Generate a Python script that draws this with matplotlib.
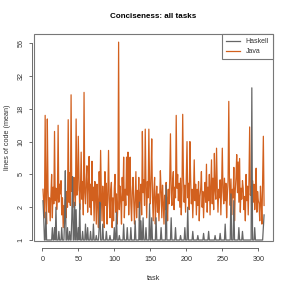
import numpy as np
import matplotlib
matplotlib.use("Agg")
import matplotlib.pyplot as plt
import matplotlib.patches as mpatches

plt.rcParams['font.family'] = ['Liberation Sans', 'DejaVu Sans']

# mean lines of code per task (tasks 1..308)
java = [
    3.3, 2.2, 1.6, 16, 2.5, 1.4, 15, 3.2, 1.8, 2.6,
    1.5, 2.8, 5, 1.6, 3.5, 2.2, 12, 2.4, 3.4, 1.9,
    2.6, 13.4, 2.3, 3.8, 2.9, 4.2, 1.7, 2.6, 1.3, 2.1,
    1.4, 2.5, 1.6, 3.1, 2, 14.8, 2.3, 5.2, 2.1, 23,
    3.1, 4.3, 2, 4.6, 3.4, 2.1, 15, 2.8, 3.2, 11,
    4.4, 1.9, 3.3, 8, 2.5, 4.1, 1.7, 24, 3, 2.2,
    4.2, 6, 1.8, 3.5, 7.3, 2, 3.8, 1.7, 6.6, 2.4,
    3.5, 1.5, 4.1, 3, 1.4, 3.8, 2.2, 1.3, 5.3, 2.3,
    8.3, 3, 1.5, 3.6, 2.4, 1.3, 5.3, 2.1, 3.9, 1.4,
    2.8, 8.3, 2.5, 1.6, 3.2, 4, 1.3, 2.6, 1.5, 3.4,
    5, 1.8, 2.9, 1.4, 2.2, 57, 1.9, 3.6, 2.5, 1.4,
    4.6, 2.4, 7.2, 1.6, 3.3, 2.1, 7.2, 2.8, 8, 1.7,
    3.4, 7.2, 2.2, 1.5, 3.1, 4.6, 2.3, 1.4, 2.7, 5.3,
    1.6, 3.2, 2, 4.6, 1.5, 2.9, 3.8, 1.7, 12, 3,
    4.3, 2.1, 12.5, 3.5, 1.6, 4.1, 2.6, 12.5, 3.9, 2.2,
    4.8, 10.5, 2.7, 1.5, 3.2, 4.6, 1.4, 2.5, 3.6, 1.8,
    2.9, 1.5, 2.4, 5.4, 3.1, 1.6, 3.7, 2.3, 1.4, 2.8,
    1.9, 4, 2.6, 1.5, 3.3, 2.2, 4.4, 11.5, 3, 2.1,
    4.2, 5.3, 1.9, 3.5, 2.6, 16, 3.4, 5, 2.4, 3.9,
    2, 4.5, 1.7, 3.2, 16.3, 4.8, 2.3, 3.7, 1.8, 4.4,
    10, 2.6, 3.9, 1.9, 10, 4.6, 2.2, 3.3, 1.6, 2.9,
    6.8, 2.4, 3.8, 1.7, 3.3, 2.1, 4.1, 1.5, 2.7, 3.4,
    5.3, 2, 3.1, 1.6, 2.8, 4, 2.3, 6.2, 1.8, 3.5,
    2.4, 5, 1.7, 3.6, 6.8, 2.2, 4.5, 1.9, 7.8, 3.2,
    2.5, 8.7, 3.4, 1.8, 3.3, 2.6, 4.3, 1.7, 3.5, 8.7,
    3.1, 2.2, 4.5, 2.4, 3.9, 1.6, 2.8, 4.2, 20.5, 3.6,
    2.1, 4.4, 1.7, 3.3, 2.6, 5.8, 1.5, 3.2, 4.6, 7.6,
    3, 6.5, 2.3, 7, 1.8, 3.4, 2.5, 4.2, 3.4, 1.9,
    2.7, 1.5, 5, 2.4, 3.6, 1.7, 4.1, 13, 2.8, 3.5,
    1.6, 4.2, 2.3, 3.8, 1.9, 2.6, 5.7, 1.8, 3.1, 2.4,
    2.2, 1.5, 3.6, 2.3, 1.4, 4.4, 11, 2.1,
]

haskell = [
    2.4, 1.6, 1, 1, 1.8, 1, 1, 1, 1, 1,
    1, 1, 1, 1.3, 1, 1, 1.3, 1, 2, 1,
    1, 1, 1.2, 1, 1, 1, 1.3, 1, 1, 1,
    1.5, 5.4, 1, 1, 1.3, 1, 1, 1.2, 1, 1,
    1.6, 4.7, 1, 1, 2.3, 1, 1.9, 1, 1, 1.3,
    1, 2.2, 1, 1, 1, 1.2, 1, 1, 1, 1.4,
    1, 1, 1.3, 1, 1, 1, 1.2, 1, 1, 1,
    1.4, 1, 1, 1, 1.1, 1, 1, 1, 1.3, 2.3,
    1, 1, 1, 1.4, 1, 1, 1, 1, 1.2, 1,
    1, 1, 1, 1.1, 1, 1, 1, 1, 1, 1.3,
    1, 1, 1.8, 1, 1, 1, 1.1, 1, 1, 1,
    1, 1, 1.4, 1, 1, 1, 1, 1.3, 1, 1,
    1, 1, 1.3, 1, 1, 1, 1, 1, 1.5, 1,
    1, 1, 1, 1, 2.3, 1, 1.5, 1, 1, 1.6,
    1, 1, 1, 1.3, 1, 1, 1, 1, 2.2, 1,
    1, 1.6, 1, 1, 1, 1, 1, 1.6, 1, 1,
    1, 1, 1, 1, 1.3, 1, 1, 1, 1, 1,
    1, 3.7, 1, 1, 1, 1, 1, 1, 1.6, 1,
    1, 1, 1, 1, 1.3, 1, 1, 1, 1, 1,
    1, 1.1, 1, 1, 1, 1, 1, 1.3, 1, 1,
    1, 2, 1, 1, 1, 1, 1, 1, 1.2, 1,
    1, 1, 1, 1, 1, 1.1, 1, 1, 1, 1,
    1, 1, 1, 1.15, 1, 1, 1, 1, 1, 1,
    1.2, 1, 1, 1, 1, 1, 1, 1, 1, 1.1,
    1, 1, 1, 1, 1, 1, 1.15, 1, 1, 1,
    1, 1, 1, 1.4, 1, 1, 1, 1, 1, 1,
    1, 2.9, 1, 1, 1, 2.4, 1, 1, 1, 1,
    1, 1, 1.3, 1, 1, 1, 1, 1.2, 1, 1,
    1, 1, 1, 1, 1, 1, 1, 1, 1, 1,
    26, 1, 1, 1, 1.3, 1, 1, 1, 1, 1,
    1, 1, 1, 1, 1, 1, 1.3, 1.7,
]

tasks = np.arange(1, len(java) + 1)
y_ticks = [1, 2, 5, 10, 18, 32, 56]
x_ticks = [0, 50, 100, 150, 200, 250, 300]

# y axis: tick labels sit equally spaced, log-interpolated in between
k_val = np.log([0.01] + y_ticks + [1e4])
k_pos = np.concatenate([[-np.log(100) / np.log(2)], np.arange(7),
                        [6 + (np.log(1e4) - np.log(56)) / (np.log(56) - np.log(32))]])


def fwd(y):
    y = np.clip(np.asarray(y, dtype=float), 0.01, 1e4)
    return np.interp(np.log(y), k_val, k_pos)


def inv(t):
    return np.exp(np.interp(np.asarray(t, dtype=float), k_pos, k_val))


fig = plt.figure(figsize=(2.91, 2.91), dpi=100)
ax = fig.add_axes([34 / 291, 1 - 241 / 291, 239 / 291, 207 / 291])
ax.set_yscale('function', functions=(fwd, inv))

ax.plot(tasks, java, color='#D2601E', lw=0.9, label='Java', zorder=2)
ax.plot(tasks, haskell, color='#666666', lw=0.9, label='Haskell', zorder=3)

ax.set_xlim(-11.5, 320.4)
ax.set_ylim(inv(-0.03), inv(6.28))

ax.set_yticks(y_ticks)
ax.set_yticklabels([str(v) for v in y_ticks])
ax.yaxis.set_minor_locator(matplotlib.ticker.NullLocator())
ax.set_xticks(x_ticks)

for s in ['top', 'right']:
    ax.spines[s].set_visible(False)
ax.spines['left'].set_position(('outward', 1.5))
ax.spines['left'].set_bounds(1, 56)
ax.spines['bottom'].set_position(('outward', 5))
ax.spines['bottom'].set_bounds(0, 300)
for s in ['left', 'bottom']:
    ax.spines[s].set_color('#555555')
    ax.spines[s].set_linewidth(0.6)

ax.add_patch(mpatches.Rectangle((0, 0), 1, 1, transform=ax.transAxes, fill=False,
                                ec='#777777', lw=0.8, clip_on=False, zorder=5))

ax.tick_params(axis='both', length=2.5, width=0.6, color='#555555',
               labelsize=5.2, labelcolor='#333333', pad=3)
for lab in ax.get_yticklabels():
    lab.set_rotation(90)
    lab.set_va('center')

handles, labels = ax.get_legend_handles_labels()
leg = ax.legend(handles[::-1], labels[::-1], loc='upper right', bbox_to_anchor=(1, 1),
                borderaxespad=0, fontsize=5, handlelength=2.0, frameon=True,
                fancybox=False, framealpha=1, borderpad=0.6, labelspacing=0.4)
leg.get_frame().set_edgecolor('#777777')
leg.get_frame().set_linewidth(0.8)
for t in leg.get_texts():
    t.set_color('#333333')

fig.text(153.5 / 291, 1 - 16 / 291, 'Conciseness: all tasks', ha='center', va='center',
         fontsize=5.8, fontweight='bold')
fig.text(153.5 / 291, 1 - 278 / 291, 'task', ha='center', va='center',
         fontsize=5.2, color='#333333')
fig.text(8 / 291, 1 - 137.5 / 291, 'lines of code (mean)', ha='center', va='center',
         rotation=90, fontsize=5.2, color='#333333')

fig.savefig('out.png', dpi=100)
